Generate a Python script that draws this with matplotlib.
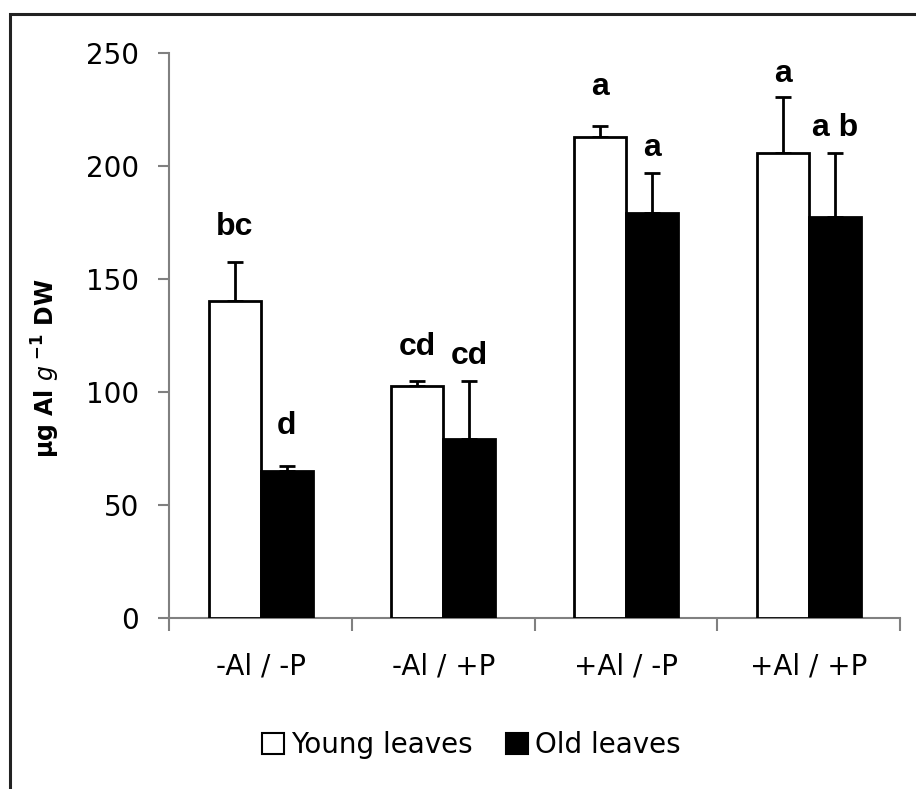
import numpy as np
import matplotlib.pyplot as plt
from matplotlib.patches import Rectangle

# values
groups = ['-Al / -P', '-Al / +P', '+Al / -P', '+Al / +P']
young = [140.5, 102.8, 212.8, 205.8]
young_err = [17.0, 2.2, 5.0, 24.8]
old = [65.3, 79.3, 179.2, 177.4]
old_err = [2.0, 25.7, 17.7, 28.4]
young_letters = ['bc', 'cd', 'a', 'a']
old_letters = ['d', 'cd', 'a', 'a b']
young_letter_y = [173, 120, 235, 241]
old_letter_y = [85, 116, 208, 217]

fig = plt.figure(figsize=(9.16, 7.89), dpi=100)
ax = fig.add_axes([0.185, 0.2167, 0.7975, 0.7157])

x = np.arange(len(groups))
w = 0.285
grey = '#808080'

ax.bar(x - w/2, young, w, color='white', edgecolor='black', linewidth=2, zorder=3)
ax.bar(x + w/2, old, w, color='black', edgecolor='black', linewidth=2, zorder=3)

# only the upper half of the error bars is drawn
ax.errorbar(x - w/2, young, yerr=[np.zeros(4), young_err], fmt='none', ecolor='black',
            elinewidth=2, capsize=6, capthick=2, zorder=2)
ax.errorbar(x + w/2, old, yerr=[np.zeros(4), old_err], fmt='none', ecolor='black',
            elinewidth=2, capsize=6, capthick=2, zorder=2)

for i in range(len(groups)):
    ax.text(x[i] - w/2, young_letter_y[i], young_letters[i], ha='center', va='center',
            fontsize=23, fontweight='bold', family='Liberation Sans')
    ax.text(x[i] + w/2, old_letter_y[i], old_letters[i], ha='center', va='center',
            fontsize=23, fontweight='bold', family='Liberation Sans')

ax.set_xlim(-0.5, 3.5)
ax.set_ylim(0, 250)
ax.set_yticks([0, 50, 100, 150, 200, 250])
ax.tick_params(axis='y', direction='out', length=8, width=1.5, color=grey, pad=14, labelsize=20)

ax.set_xticks(np.arange(-0.5, 4, 1))
ax.set_xticklabels([])
ax.set_xticks(x, minor=True)
ax.set_xticklabels(groups, minor=True)
ax.tick_params(axis='x', which='major', direction='out', length=9.5, width=1.5, color=grey)
ax.tick_params(axis='x', which='minor', length=0, pad=25, labelsize=20)

for s in ['top', 'right']:
    ax.spines[s].set_visible(False)
for s in ['left', 'bottom']:
    ax.spines[s].set_color(grey)
    ax.spines[s].set_linewidth(1.5)

fig.text(46/916, 1 - 368/789, r'μg Al $\mathit{g}^{\ \mathregular{-1}}$ DW', rotation=90,
         ha='center', va='center', fontsize=17, fontweight='bold')

young_h = Rectangle((0, 0), 1, 1, facecolor='white', edgecolor='black', linewidth=1.5)
old_h = Rectangle((0, 0), 1, 1, facecolor='black', edgecolor='black', linewidth=1.5)
fig.legend([young_h, old_h], ['Young leaves', 'Old leaves'], loc='center',
           bbox_to_anchor=(471/916, 1 - 745/789), ncol=2, frameon=False, fontsize=20,
           handlelength=0.8, handleheight=0.8, handletextpad=0.25, columnspacing=1.2)

# outer frame around the figure
fig.patches.append(Rectangle((10/916, -0.05), 1.0, 1 - 14/789 + 0.05, transform=fig.transFigure,
                             fill=False, edgecolor='#222222', linewidth=2.2))

fig.savefig('out.png', dpi=100)
